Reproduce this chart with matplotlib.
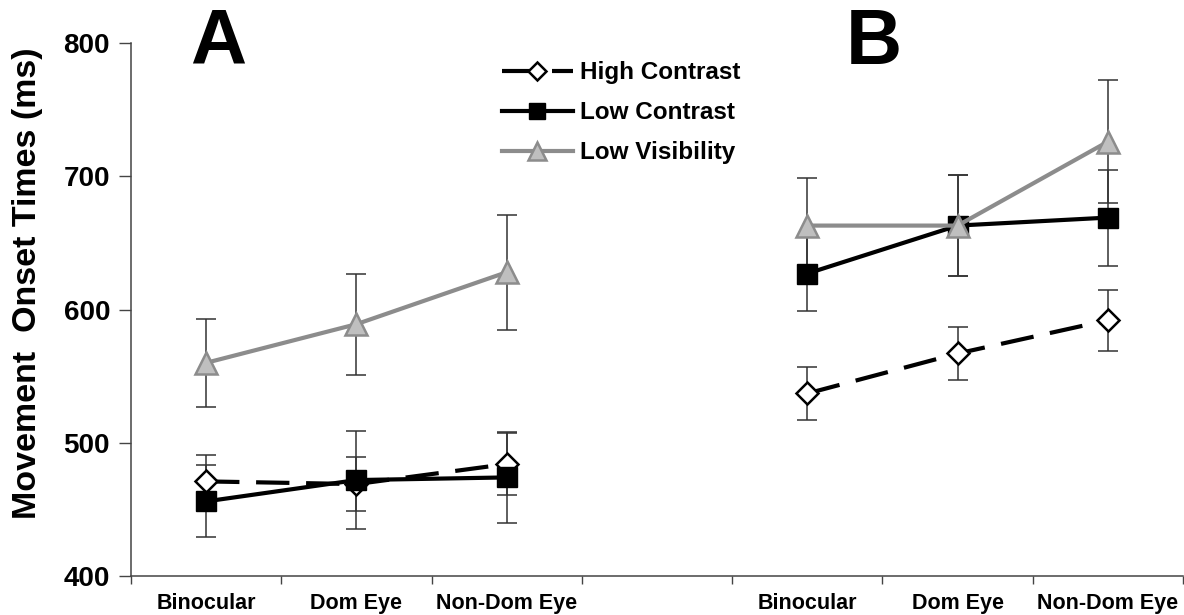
import matplotlib
matplotlib.use("Agg")
import matplotlib.pyplot as plt
from matplotlib.lines import Line2D

plt.rcParams['font.family'] = ['Liberation Sans', 'DejaVu Sans']
plt.rcParams['font.weight'] = 'bold'

categories = ["Binocular", "Dom Eye", "Non-Dom Eye", "", "Binocular", "Dom Eye", "Non-Dom Eye"]
panel_a_idx = [1, 2, 3]
panel_b_idx = [5, 6, 7]

high_a = [471, 469, 484]
high_a_err = [20, 20, 23]
low_a = [456, 472, 474]
low_a_err = [27, 37, 34]
vis_a = [560, 589, 628]
vis_a_err = [33, 38, 43]

high_b = [537, 567, 592]
high_b_err = [20, 20, 23]
low_b = [627, 663, 669]
low_b_err = [28, 38, 36]
vis_b = [663, 663, 726]
vis_b_err = [36, 38, 46]

fig = plt.figure(figsize=(11.84, 6.15), dpi=100)
ax = fig.add_axes([0.1106, 0.0634, 0.8886, 0.8666])

gray_line = '#8c8c8c'
gray_fill = '#bfbfbf'

for xs, ys, es in [(panel_a_idx, high_a, high_a_err), (panel_a_idx, low_a, low_a_err),
                   (panel_a_idx, vis_a, vis_a_err), (panel_b_idx, high_b, high_b_err),
                   (panel_b_idx, low_b, low_b_err), (panel_b_idx, vis_b, vis_b_err)]:
    ax.errorbar(xs, ys, yerr=es, fmt='none', ecolor='#333333', elinewidth=1.1,
                capsize=7, capthick=1.1, zorder=2)

hc_style = dict(color='black', lw=3, dashes=(8, 4), marker='D', ms=11.5,
                mfc='white', mec='black', mew=1.8, zorder=3)
lc_style = dict(color='black', lw=3, marker='s', ms=14, mfc='black', mec='black', zorder=4)
lv_style = dict(color=gray_line, lw=3, marker='^', ms=16, mfc=gray_fill, mec=gray_line,
                mew=1.8, zorder=5)

ax.plot(panel_a_idx, high_a, **hc_style)
ax.plot(panel_a_idx, low_a, **lc_style)
ax.plot(panel_a_idx, vis_a, **lv_style)
ax.plot(panel_b_idx, high_b, **hc_style)
ax.plot(panel_b_idx, low_b, **lc_style)
ax.plot(panel_b_idx, vis_b, **lv_style)

ax.set_xlim(0.5, 7.5)
ax.set_ylim(400, 800)
ax.set_yticks([400, 500, 600, 700, 800])
ax.tick_params(axis='y', labelsize=20, length=9, width=1, color='#444444', pad=6)
for t in ax.get_yticklabels():
    t.set_fontweight('bold')

ax.set_xticks([i + 0.5 for i in range(0, 8)])
ax.set_xticklabels([])
ax.set_xticks(list(range(1, 8)), minor=True)
ax.set_xticklabels(categories, minor=True)
ax.tick_params(axis='x', which='major', length=6, width=1, color='#444444')
ax.tick_params(axis='x', which='minor', length=0, labelsize=15.5, pad=12)
for t in ax.get_xticklabels(minor=True):
    t.set_fontweight('bold')

for s in ['top', 'right']:
    ax.spines[s].set_visible(False)
for s in ['left', 'bottom']:
    ax.spines[s].set_color('#444444')
    ax.spines[s].set_linewidth(1.1)

ax.set_ylabel("Movement  Onset Times (ms)", fontsize=24.5, fontweight='bold')
ax.yaxis.set_label_coords(-0.0837, 0.55)

ax.text(1.08, 1.0, "A", fontsize=56, fontweight='bold', ha='center', va='center',
        transform=ax.get_xaxis_transform())
ax.text(5.44, 1.0, "B", fontsize=56, fontweight='bold', ha='center', va='center',
        transform=ax.get_xaxis_transform())

handles = [Line2D([], [], **{k: v for k, v in hc_style.items() if k != 'zorder'}),
           Line2D([], [], **{k: v for k, v in lc_style.items() if k != 'zorder'}),
           Line2D([], [], **{k: v for k, v in lv_style.items() if k != 'zorder'})]
leg = ax.legend(handles, ["High Contrast", "Low Contrast", "Low Visibility"],
                loc='upper left', bbox_to_anchor=(0.332, 1.007), frameon=False,
                prop={'size': 17.5, 'weight': 'bold'}, handlelength=2.9,
                handletextpad=0.3, labelspacing=0.7, markerscale=0.8)

fig.savefig("out.png", dpi=100)
